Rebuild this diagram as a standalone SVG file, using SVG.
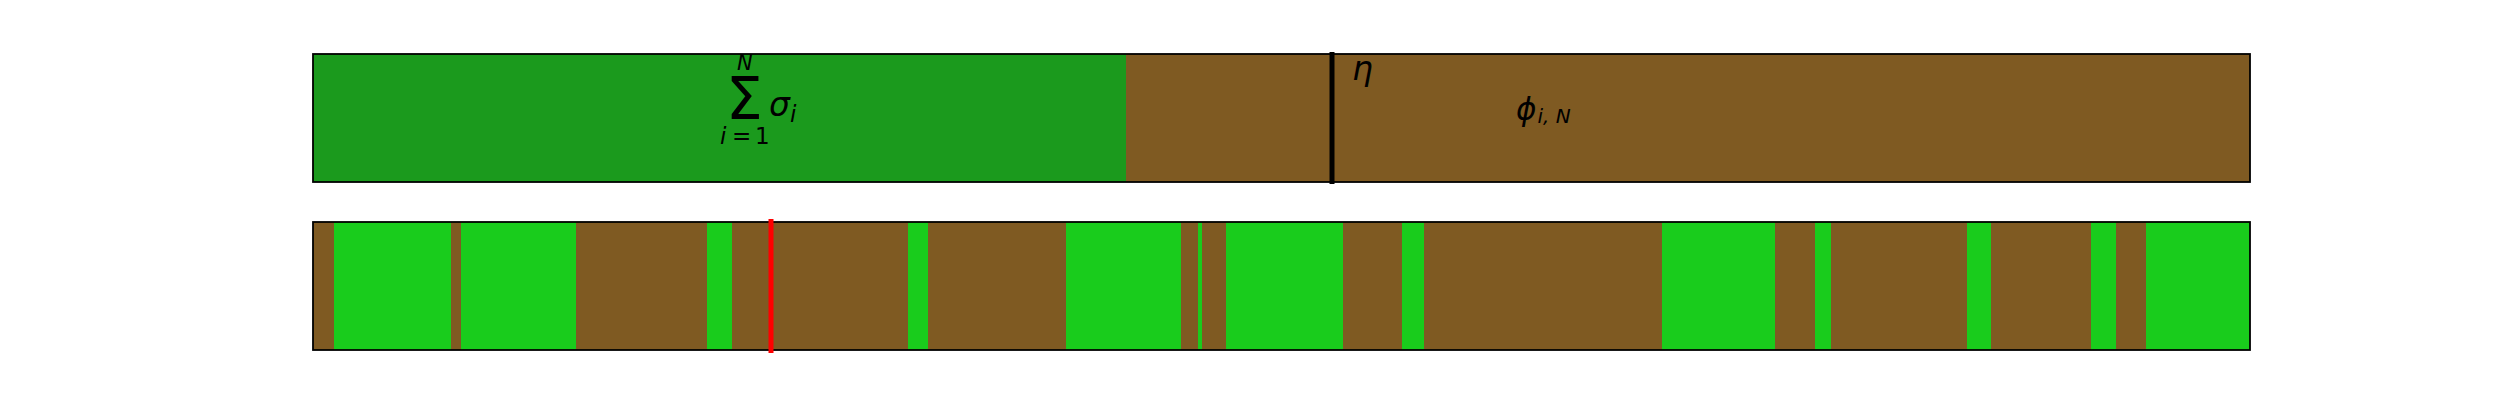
<svg xmlns="http://www.w3.org/2000/svg" width="2500" height="400" viewBox="0 0 2500 400">
<style>
.brown{fill:#7f5a22}
.g1{fill:#1b9a1d}
.g2{fill:#19cc1c}
.frame{fill:none;stroke:#000;stroke-width:1.8}
.m{font-family:"DejaVu Sans",sans-serif;fill:#000}
.it{font-style:italic}
</style>
<rect width="2500" height="400" fill="#fff"/>
<g id="top-bar">
<rect class="brown" x="313" y="54" width="1937" height="128"/>
<rect class="g1" x="313" y="54" width="813" height="128"/>
<rect class="frame" x="313" y="54" width="1937" height="128"/>
</g>
<g id="sum-label">
<text class="m" x="726" y="119" font-size="58">Σ</text>
<text class="m it" x="737" y="70" font-size="21">N</text>
<text class="m it" x="720" y="144" font-size="23">i</text>
<text class="m" x="732" y="144" font-size="23">=</text>
<text class="m" x="755" y="144" font-size="23">1</text>
<text class="m it" x="769" y="116" font-size="33">σ</text>
<text class="m it" x="790" y="122" font-size="23">i</text>
</g>
<g id="eta-label">
<text class="m it" x="1352" y="80" font-size="33">η</text>
</g>
<g id="phi-label">
<text class="m it" x="1516" y="120" font-size="31">ϕ<tspan font-size="20" dy="3" dx="1">i, N</tspan></text>
</g>
<g id="bottom-bar">
<rect class="brown" x="313" y="222" width="1937" height="128"/>
<rect class="g2" x="334" y="222" width="117" height="128"/>
<rect class="g2" x="461" y="222" width="115" height="128"/>
<rect class="g2" x="707" y="222" width="25" height="128"/>
<rect class="g2" x="908" y="222" width="20" height="128"/>
<rect class="g2" x="1066" y="222" width="115" height="128"/>
<rect class="g2" x="1198" y="222" width="4" height="128"/>
<rect class="g2" x="1226" y="222" width="117" height="128"/>
<rect class="g2" x="1402" y="222" width="22" height="128"/>
<rect class="g2" x="1662" y="222" width="113" height="128"/>
<rect class="g2" x="1815" y="222" width="16" height="128"/>
<rect class="g2" x="1967" y="222" width="24" height="128"/>
<rect class="g2" x="2091" y="222" width="25" height="128"/>
<rect class="g2" x="2146" y="222" width="104" height="128"/>
<rect class="frame" x="313" y="222" width="1937" height="128"/>
</g>
<g id="connectors">
<line x1="1332" y1="52" x2="1332" y2="184" stroke="#000" stroke-width="5"/>
<line x1="771" y1="219" x2="771" y2="353" stroke="#ff0000" stroke-width="5"/>
</g>
</svg>
